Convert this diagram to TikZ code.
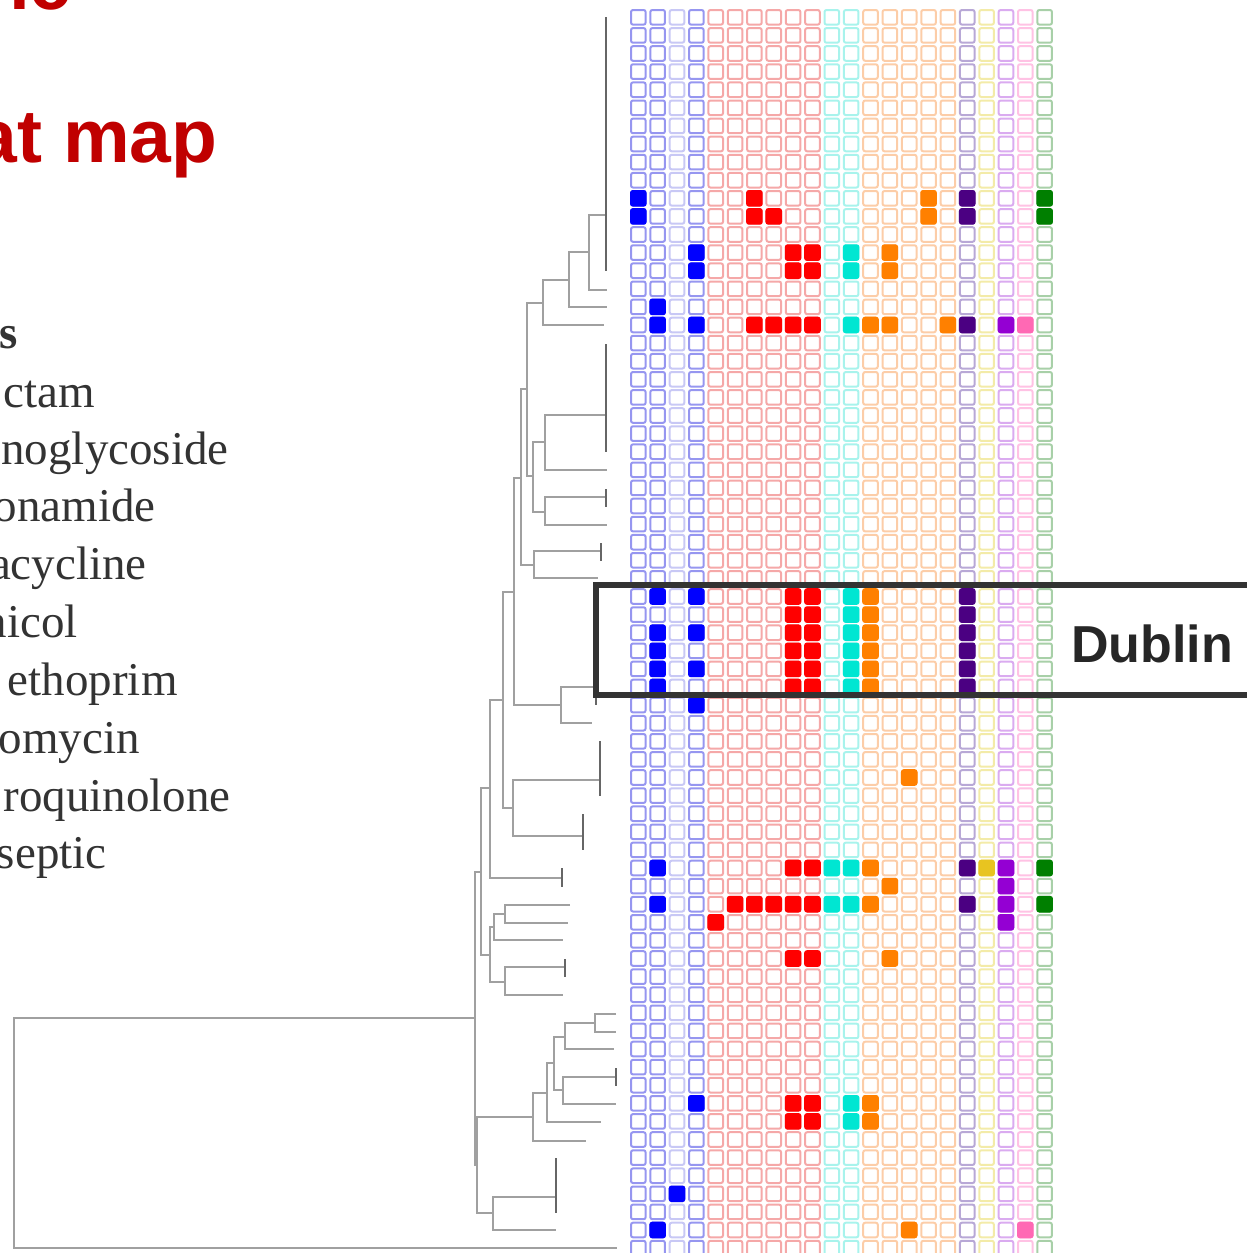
\documentclass[tikz,border=0pt]{standalone}
\usepackage{fontspec}
\setmainfont{Liberation Serif}
\newfontfamily\headfont{Liberation Sans}
\usepackage{xcolor}
\definecolor{cblue}{HTML}{9696F0}
\definecolor{cbluel}{HTML}{C8C8F5}
\definecolor{cred}{HTML}{F5A8A8}
\definecolor{ccyan}{HTML}{A8F3EC}
\definecolor{corange}{HTML}{FCCDA8}
\definecolor{cpurple}{HTML}{B8A8D6}
\definecolor{cyellow}{HTML}{F3EBA8}
\definecolor{cviolet}{HTML}{DAABF0}
\definecolor{cpink}{HTML}{FFC2E4}
\definecolor{cgreen}{HTML}{A8D0A8}
\definecolor{fblue}{HTML}{0000FF}
\definecolor{fred}{HTML}{FF0000}
\definecolor{fcyan}{HTML}{00E6D2}
\definecolor{forange}{HTML}{FF8000}
\definecolor{fpurple}{HTML}{4B0082}
\definecolor{fyellow}{HTML}{E8C420}
\definecolor{fviolet}{HTML}{9400D3}
\definecolor{fpink}{HTML}{FF69B4}
\definecolor{fgreen}{HTML}{007F00}
\definecolor{titlered}{HTML}{C00000}
\definecolor{treegray}{HTML}{A0A0A0}
\definecolor{textgray}{HTML}{333333}

\tikzset{
  cell/.style={rounded corners=1pt, line width=1pt},
  branch/.style={treegray, line width=0.8pt},
  comb/.style={black!60, line width=0.8pt},
  drug/.style={anchor=base east, inner sep=0pt, text=textgray, font=\fontsize{23.5}{28}\selectfont},
  title/.style={anchor=base east, inner sep=0pt, text=titlered, font=\headfont\bfseries\fontsize{37.5}{40}\selectfont}
}
\newcommand{\clade}[5]{\draw[branch] (#3,#2) -| (#1,#4) -- (#5,#4);}

\begin{document}
\begin{tikzpicture}[x=0.5pt,y=-0.5pt]
\useasboundingbox (0,0) rectangle (1247,1253);
\clip (0,0) rectangle (1247,1253);

\foreach \c/\col in {0/cblue,1/cblue,2/cbluel,3/cblue,4/cred,5/cred,6/cred,7/cred,8/cred,9/cred,10/ccyan,11/ccyan,12/corange,13/corange,14/corange,15/corange,16/corange,17/cpurple,18/cyellow,19/cviolet,20/cpink,21/cgreen} {
  \foreach \r in {0,...,68} {
    \draw[cell,\col] ({631+19.35*\c},{10+18.1*\r}) rectangle ++(14.6,14.6);
  }
}

\foreach \c/\r/\col in {0/10/fblue,0/11/fblue,3/13/fblue,3/14/fblue,1/16/fblue,1/17/fblue,3/17/fblue,1/32/fblue,3/32/fblue,1/34/fblue,3/34/fblue,1/35/fblue,1/36/fblue,3/36/fblue,1/37/fblue,3/38/fblue,1/47/fblue,1/49/fblue,3/60/fblue,2/65/fblue,1/67/fblue,
  6/10/fred,6/11/fred,7/11/fred,8/13/fred,9/13/fred,8/14/fred,9/14/fred,6/17/fred,7/17/fred,8/17/fred,9/17/fred,8/47/fred,9/47/fred,5/49/fred,6/49/fred,7/49/fred,8/49/fred,9/49/fred,4/50/fred,8/52/fred,9/52/fred,8/60/fred,9/60/fred,8/61/fred,9/61/fred,
  11/13/fcyan,11/14/fcyan,11/17/fcyan,10/47/fcyan,11/47/fcyan,10/49/fcyan,11/49/fcyan,11/60/fcyan,11/61/fcyan,
  15/10/forange,15/11/forange,13/13/forange,13/14/forange,12/17/forange,13/17/forange,16/17/forange,14/42/forange,12/47/forange,13/48/forange,12/49/forange,13/52/forange,12/60/forange,12/61/forange,14/67/forange,
  17/10/fpurple,17/11/fpurple,17/17/fpurple,17/47/fpurple,17/49/fpurple,18/47/fyellow,
  19/17/fviolet,19/47/fviolet,19/48/fviolet,19/49/fviolet,19/50/fviolet,20/17/fpink,20/67/fpink,
  21/10/fgreen,21/11/fgreen,21/47/fgreen,21/49/fgreen} {
  \filldraw[cell,\col] ({631+19.35*\c},{10+18.1*\r}) rectangle ++(14.6,14.6);
}
\foreach \r in {32,...,37} {
  \foreach \c/\col in {8/fred,9/fred,11/fcyan,12/forange,17/fpurple} {
    \filldraw[cell,\col] ({631+19.35*\c},{10+18.1*\r}) rectangle ++(14.6,14.6);
  }
}

\clade{14}{1018}{475}{1248}{617}
\clade{475}{872}{481}{1165}{477}
\clade{477}{1117}{533}{1213}{493}
\clade{493}{1197}{556}{1230}{556}
\clade{533}{1093}{547}{1141}{586}
\clade{547}{1063}{554}{1122}{601}
\clade{554}{1037}{565}{1090}{563}
\clade{565}{1023}{595}{1049}{614}
\clade{595}{1014}{616}{1032}{616}
\clade{563}{1077}{616}{1104}{616}
\clade{481}{788}{490}{955}{490}
\clade{490}{927}{494}{982}{505}
\clade{494}{914}{505}{940}{563}
\clade{505}{905}{570}{923}{568}
\clade{505}{967}{565}{995}{563}
\clade{490}{700}{503}{878}{562}
\clade{503}{592}{514}{808}{513}
\clade{513}{780}{600}{836}{583}
\clade{514}{478}{521}{705}{561}
\clade{561}{687}{596}{723}{592}
\clade{521}{389}{527}{565}{534}
\clade{534}{551}{601}{578}{598}
\clade{527}{303}{543}{476}{533}
\clade{533}{442}{545}{512}{545}
\clade{545}{415}{607}{470}{607}
\clade{545}{497}{606}{525}{607}
\clade{543}{280}{569}{325}{604}
\clade{569}{252}{589}{307}{607}
\clade{589}{215}{606}{290}{607}

\foreach \x/\ya/\yb in {606/17/271,606/344/452,606/489/507,601/543/561,596/597/705,600/741/796,583/814/850,562/868/887,565/959/977,616/1068/1086,556/1158/1213} {
  \draw[comb] (\x,\ya) -- (\x,\yb);
}

\draw[textgray, line width=3pt] (596,585) rectangle (1262,695);
\node[anchor=base west, inner sep=0pt, text=black!85, font=\headfont\bfseries\fontsize{26}{30}\selectfont] (dublin) at (1071,662) {Dublin};

\node[title] (toptitle) at (72,9) {ic};
\node[title] (heatmap) at (218,162) {at map};

\node[drug, font=\bfseries\fontsize{23.5}{28}\selectfont] (classes) at (18,348) {s};
\foreach \name/\x/\y in {ctam/95/407,noglycoside/229/464,onamide/156/521,acycline/147/579,nicol/78/637,ethoprim/178/695,omycin/140/753,roquinolone/231/811,septic/107/868} {
  \node[drug] (\name) at (\x,\y) {\name};
}
\end{tikzpicture}
\end{document}
